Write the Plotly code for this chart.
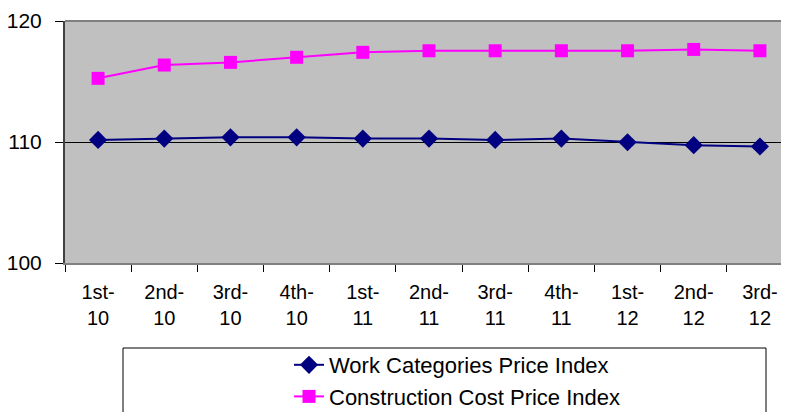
import plotly.graph_objects as go

categories = ["1st-<br>10", "2nd-<br>10", "3rd-<br>10", "4th-<br>10",
              "1st-<br>11", "2nd-<br>11", "3rd-<br>11", "4th-<br>11",
              "1st-<br>12", "2nd-<br>12", "3rd-<br>12"]
work_index = [110.17, 110.28, 110.39, 110.39, 110.28, 110.28, 110.17, 110.28, 109.98, 109.74, 109.63]
construction_index = [115.26, 116.36, 116.58, 117.0, 117.41, 117.54, 117.54, 117.54, 117.54, 117.65, 117.54]
y_ticks = [100, 110, 120]

FONT = "Liberation Sans, Arial, sans-serif"

# page body has an 8px margin; figure coordinates are screen minus 8
PL, PR, PT, PB = 57, 785, 13, 255
PW, PH = PR - PL, PB - PT


def px(fx):
    return (fx - PL) / PW


def py(fy):
    return (PB - fy) / PH


fig = go.Figure()
fig.add_trace(go.Scatter(
    x=categories, y=work_index, mode="lines+markers",
    name="Work Categories Price Index",
    line=dict(color="#000080", width=2),
    marker=dict(symbol="diamond", size=14, color="#000080"),
))
fig.add_trace(go.Scatter(
    x=categories, y=construction_index, mode="lines+markers",
    name="Construction Cost Price Index",
    line=dict(color="#FF00FF", width=2),
    marker=dict(symbol="square", size=13, color="#FF00FF"),
))

# legend box (extends past the bottom edge as in the reference)
fig.add_shape(type="rect", xref="paper", yref="paper",
              x0=px(115), x1=px(758), y0=py(430), y1=py(340),
              line=dict(color="#000000", width=1), fillcolor="white", layer="below")

fig.update_layout(
    width=789, height=412,
    margin=dict(l=PL, r=789 - PR, t=PT, b=412 - PB, autoexpand=False),
    paper_bgcolor="white",
    plot_bgcolor="#C0C0C0",
    font=dict(family=FONT, size=21, color="black"),
    showlegend=True,
    legend=dict(
        x=px(281), y=py(336),
        xanchor="left", yanchor="top",
        bgcolor="rgba(0,0,0,0)", borderwidth=0,
        font=dict(family=FONT, size=22, color="black"),
        tracegroupgap=0,
    ),
    xaxis=dict(
        type="category",
        range=[-0.5, 10.5],
        tickson="boundaries",
        ticks="outside", ticklen=7, tickcolor="#000000", tickwidth=1,
        showline=True, linecolor="#808080", linewidth=2,
        showgrid=False,
        tickfont=dict(family=FONT, size=20),
        ticklabelstandoff=10,
        automargin=False,
        fixedrange=True,
    ),
    yaxis=dict(
        range=[100, 120],
        tickvals=y_ticks,
        ticks="outside", ticklen=8, tickcolor="#000000", tickwidth=1,
        showline=True, linecolor="#404040", linewidth=2,
        showgrid=True, gridcolor="#000000", gridwidth=1,
        zeroline=False,
        tickfont=dict(family=FONT, size=21),
        ticklabelstandoff=9,
        automargin=False,
    ),
)
# top border of the plot area
fig.add_shape(type="line", xref="paper", yref="paper", x0=0, x1=1, y0=1, y1=1,
              line=dict(color="#808080", width=2))

fig.write_html("out.html")
